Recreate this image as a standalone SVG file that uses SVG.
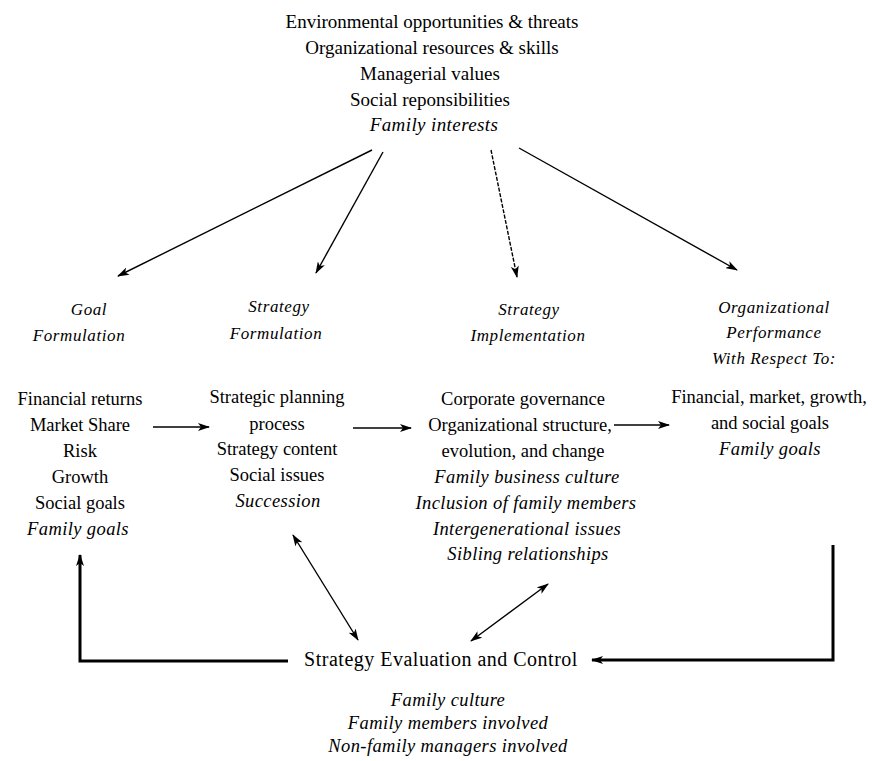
<svg xmlns="http://www.w3.org/2000/svg" width="872" height="761" viewBox="0 0 872 761">
<style>
text{font-family:"Liberation Serif","Times New Roman",serif;font-size:18.5px;fill:#000;text-anchor:middle}
.t{font-size:19px}
.e{font-size:20px;letter-spacing:0.5px}
.i{font-style:italic;letter-spacing:0.4px}
.h{font-style:italic;font-size:17px;letter-spacing:0.6px}
.ln{stroke:#000;stroke-width:1.4;fill:none}
.thick{stroke:#000;stroke-width:3;fill:none}
</style>
<defs>
<marker id="ah" viewBox="0 0 12 8" refX="11" refY="4" markerWidth="12" markerHeight="8" markerUnits="userSpaceOnUse" orient="auto-start-reverse">
<path d="M0,0 L12,4 L0,8 L3,4 Z" fill="#000"/>
</marker>
</defs>
<rect width="872" height="761" fill="#fff"/>
<g id="inputs">
<text x="432" y="28" class="t">Environmental opportunities &amp; threats</text>
<text x="432" y="54" class="t">Organizational resources &amp; skills</text>
<text x="430" y="80" class="t">Managerial values</text>
<text x="430" y="106" class="t">Social reponsibilities</text>
<text x="434" y="131" class="t i">Family interests</text>
</g>
<g id="goal">
<text x="89" y="315" class="h">Goal</text>
<text x="79" y="341" class="h">Formulation</text>
<text x="80" y="405">Financial returns</text>
<text x="80" y="431">Market Share</text>
<text x="80" y="457">Risk</text>
<text x="80" y="483">Growth</text>
<text x="80" y="509">Social goals</text>
<text x="78" y="535" class="i">Family goals</text>
</g>
<g id="formulation">
<text x="279" y="312" class="h">Strategy</text>
<text x="276" y="339" class="h">Formulation</text>
<text x="277" y="403">Strategic planning</text>
<text x="277" y="430">process</text>
<text x="277" y="455">Strategy content</text>
<text x="277" y="481">Social issues</text>
<text x="278" y="507" class="i">Succession</text>
</g>
<g id="implementation">
<text x="529" y="315" class="h">Strategy</text>
<text x="528" y="341" class="h">Implementation</text>
<text x="523" y="405">Corporate governance</text>
<text x="520" y="431">Organizational structure,</text>
<text x="523" y="457">evolution, and change</text>
<text x="527" y="483" class="i">Family business culture</text>
<text x="526" y="509" class="i">Inclusion of family members</text>
<text x="527" y="535" class="i">Intergenerational issues</text>
<text x="528" y="560" class="i">Sibling relationships</text>
</g>
<g id="performance">
<text x="774" y="313" class="h">Organizational</text>
<text x="774" y="338" class="h">Performance</text>
<text x="774" y="364" class="h">With Respect To:</text>
<text x="769" y="403">Financial, market, growth,</text>
<text x="770" y="429">and social goals</text>
<text x="770" y="455" class="i">Family goals</text>
</g>
<g id="evaluation">
<text x="441" y="666" class="e">Strategy Evaluation and Control</text>
<text x="448" y="706" class="i">Family culture</text>
<text x="448" y="729" class="i">Family members involved</text>
<text x="448" y="752" class="i">Non-family managers involved</text>
</g>
<g id="connectors">
<line class="ln" x1="372" y1="150" x2="118" y2="276" marker-end="url(#ah)"/>
<line class="ln" x1="383" y1="152" x2="316" y2="273" marker-end="url(#ah)"/>
<line class="ln" x1="491" y1="150" x2="517" y2="277" stroke-dasharray="4 1.5" marker-end="url(#ah)"/>
<line class="ln" x1="519" y1="148" x2="737" y2="270" marker-end="url(#ah)"/>
<line class="ln" x1="153" y1="427" x2="209" y2="427" marker-end="url(#ah)"/>
<line class="ln" x1="353" y1="428" x2="411" y2="428" marker-end="url(#ah)"/>
<line class="ln" x1="614" y1="425" x2="669" y2="425" marker-end="url(#ah)"/>
<line class="ln" x1="293" y1="535" x2="358" y2="640" marker-start="url(#ah)" marker-end="url(#ah)"/>
<line class="ln" x1="548" y1="584" x2="471" y2="641" marker-start="url(#ah)" marker-end="url(#ah)"/>
<polyline class="thick" points="833,545 833,660 592,660" marker-end="url(#ah)"/>
<polyline class="thick" points="288,661 80,661 80,555" marker-end="url(#ah)"/>
</g>
</svg>
